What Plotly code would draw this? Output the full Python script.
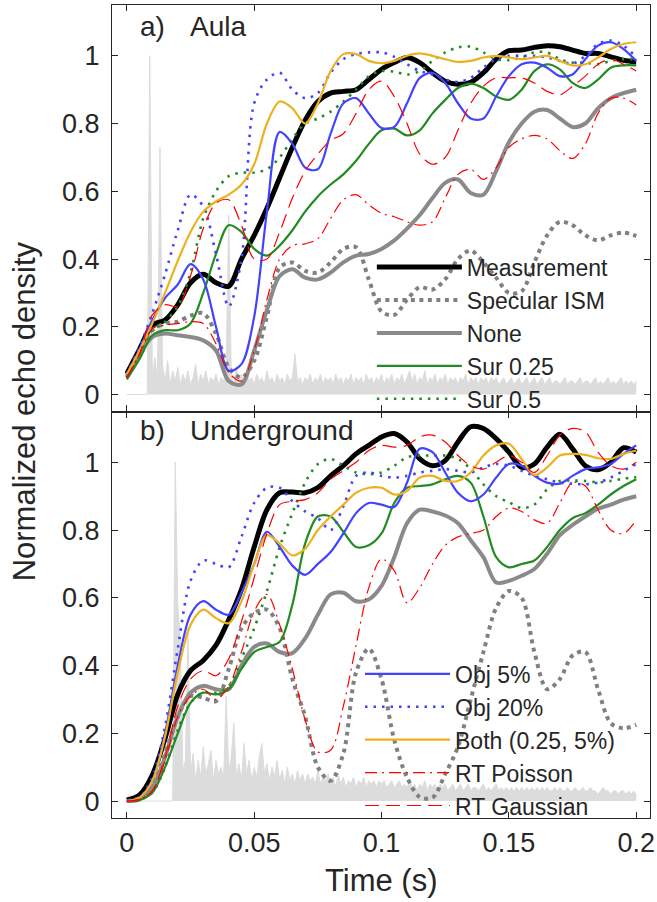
import plotly.graph_objects as go
from plotly.subplots import make_subplots

# ---------------- data ----------------
time = [0.000, 0.005, 0.010, 0.015, 0.020, 0.025, 0.030, 0.035, 0.040, 0.045,
        0.050, 0.055, 0.060, 0.065, 0.070, 0.075, 0.080, 0.085, 0.090, 0.095,
        0.100, 0.105, 0.110, 0.115, 0.120, 0.125, 0.130, 0.135, 0.140, 0.145,
        0.150, 0.155, 0.160, 0.165, 0.170, 0.175, 0.180, 0.185, 0.190, 0.195, 0.200]

# a) Aula
a_meas = [0.062,0.134,0.205,0.22,0.265,0.33,0.355,0.33,0.32,0.40,
          0.47,0.55,0.64,0.73,0.81,0.865,0.89,0.895,0.90,0.93,
          0.96,0.98,0.995,0.98,0.95,0.925,0.916,0.922,0.95,0.99,
          1.015,1.017,1.025,1.03,1.027,1.017,1.007,1.007,0.997,0.987,0.982]
a_spec = [0.055,0.13,0.19,0.21,0.215,0.233,0.24,0.18,0.08,0.05,
          0.10,0.23,0.375,0.39,0.365,0.36,0.39,0.43,0.435,0.34,
          0.245,0.235,0.28,0.317,0.31,0.34,0.40,0.425,0.39,0.345,
          0.30,0.305,0.39,0.47,0.51,0.50,0.47,0.455,0.47,0.478,0.468]
a_none = [0.05,0.12,0.17,0.18,0.175,0.17,0.16,0.13,0.04,0.03,
          0.13,0.25,0.35,0.37,0.345,0.34,0.36,0.39,0.41,0.415,
          0.43,0.455,0.49,0.53,0.58,0.625,0.635,0.595,0.59,0.66,
          0.745,0.80,0.835,0.84,0.815,0.79,0.80,0.845,0.875,0.89,0.90]
a_sur25 = [0.045,0.105,0.175,0.19,0.19,0.21,0.30,0.415,0.50,0.48,
           0.43,0.41,0.44,0.485,0.54,0.585,0.62,0.65,0.69,0.74,
           0.78,0.785,0.765,0.78,0.83,0.87,0.905,0.918,0.905,0.88,
           0.87,0.90,0.955,0.975,0.96,0.92,0.905,0.93,0.965,0.972,0.972]
a_sur50 = [0.05,0.12,0.19,0.215,0.26,0.36,0.52,0.60,0.645,0.655,
           0.655,0.665,0.70,0.755,0.80,0.815,0.835,0.865,0.90,0.94,
           0.955,0.953,0.945,0.955,0.985,1.01,1.025,1.027,1.01,0.99,
           0.987,0.995,1.01,1.01,0.99,0.98,0.98,0.975,0.985,0.99,0.99]
a_obj5 = [0.06,0.134,0.22,0.285,0.325,0.385,0.34,0.20,0.07,0.09,
          0.23,0.54,0.775,0.74,0.67,0.665,0.77,0.86,0.875,0.83,
          0.787,0.79,0.86,0.935,0.95,0.92,0.86,0.815,0.815,0.88,
          0.94,0.975,0.98,0.965,0.94,0.945,0.99,1.03,1.04,1.02,0.985]
a_obj20 = [0.06,0.14,0.24,0.355,0.485,0.59,0.555,0.415,0.26,0.40,
           0.86,0.93,0.95,0.90,0.875,0.89,0.95,0.99,1.005,1.01,
           1.01,0.997,0.975,0.955,0.945,0.93,0.923,0.935,0.965,0.99,
           1.0,1.0,1.0,0.995,0.985,0.977,1.0,1.035,1.045,1.03,0.995]
a_both = [0.06,0.13,0.21,0.30,0.395,0.48,0.54,0.57,0.59,0.62,
          0.68,0.80,0.865,0.845,0.80,0.86,0.955,1.005,1.005,0.985,
          0.978,0.985,1.0,1.007,1.0,0.99,0.982,0.985,0.995,1.0,
          0.995,0.99,0.995,1.0,0.985,0.972,0.975,0.995,1.02,1.035,1.04]
a_poisson = [0.05,0.12,0.195,0.205,0.21,0.215,0.21,0.15,0.065,0.04,
             0.13,0.28,0.40,0.44,0.445,0.46,0.52,0.575,0.59,0.56,
             0.535,0.525,0.51,0.50,0.51,0.58,0.65,0.665,0.635,0.67,
             0.73,0.755,0.765,0.755,0.72,0.697,0.74,0.83,0.875,0.875,0.855]
a_gauss = [0.05,0.12,0.235,0.265,0.26,0.35,0.49,0.565,0.575,0.50,
           0.40,0.40,0.48,0.58,0.66,0.71,0.75,0.77,0.83,0.90,
           0.925,0.88,0.80,0.71,0.68,0.70,0.78,0.86,0.91,0.935,
           0.935,0.935,0.92,0.895,0.885,0.91,0.94,0.975,0.99,0.975,0.955]

# b) Underground
b_meas = [0.003,0.018,0.077,0.185,0.315,0.385,0.415,0.46,0.535,0.625,
          0.75,0.86,0.91,0.912,0.91,0.925,0.96,0.99,1.025,1.05,
          1.075,1.085,1.06,1.01,0.99,1.005,1.06,1.105,1.10,1.07,
          1.03,0.985,0.995,1.045,1.083,1.04,0.99,0.978,1.0,1.043,1.03]
b_spec = [0.0,0.01,0.05,0.14,0.25,0.31,0.305,0.295,0.39,0.51,
          0.555,0.565,0.51,0.36,0.25,0.10,0.06,0.14,0.38,0.45,
          0.36,0.18,0.07,0.012,0.01,0.08,0.16,0.30,0.44,0.57,
          0.62,0.60,0.44,0.33,0.36,0.43,0.44,0.33,0.23,0.215,0.225]
b_none = [0.0,0.005,0.04,0.13,0.25,0.32,0.34,0.33,0.33,0.40,
          0.455,0.465,0.44,0.437,0.48,0.55,0.61,0.615,0.59,0.595,
          0.635,0.72,0.82,0.86,0.855,0.843,0.82,0.77,0.72,0.645,
          0.65,0.665,0.685,0.73,0.785,0.815,0.84,0.863,0.875,0.89,0.90]
b_sur25 = [0.0,0.003,0.025,0.10,0.20,0.29,0.32,0.315,0.33,0.39,
           0.44,0.455,0.47,0.58,0.76,0.84,0.84,0.795,0.75,0.755,
           0.79,0.88,0.925,0.93,0.935,0.95,0.96,0.94,0.84,0.72,
           0.69,0.70,0.71,0.75,0.80,0.835,0.85,0.875,0.905,0.93,0.95]
b_sur50 = [0.0,0.003,0.025,0.10,0.21,0.29,0.32,0.32,0.34,0.42,
           0.51,0.62,0.75,0.85,0.94,0.995,1.01,0.99,0.97,0.965,
           0.97,0.99,1.015,1.02,1.02,1.02,1.01,0.98,0.935,0.90,
           0.882,0.865,0.875,0.92,0.945,0.946,0.945,0.941,0.945,0.952,0.956]
b_obj5 = [0.0,0.01,0.06,0.20,0.40,0.55,0.59,0.565,0.55,0.615,
          0.70,0.795,0.75,0.695,0.668,0.70,0.735,0.79,0.85,0.88,
          0.875,0.868,0.94,1.04,1.03,0.97,0.91,0.885,0.905,0.955,
          0.995,0.99,0.96,0.94,0.937,0.96,0.98,0.985,0.995,1.025,1.05]
b_obj20 = [0.0,0.01,0.07,0.22,0.45,0.65,0.71,0.70,0.69,0.78,
           0.88,0.925,0.925,0.885,0.855,0.835,0.80,0.87,0.96,0.97,
           0.96,0.955,0.96,0.97,0.975,0.98,0.975,0.97,0.985,0.995,
           0.99,0.975,0.96,0.95,0.94,0.937,0.935,0.94,0.955,0.975,0.995]
b_both = [0.0,0.01,0.06,0.19,0.38,0.52,0.565,0.54,0.525,0.59,
          0.70,0.785,0.76,0.725,0.745,0.80,0.84,0.875,0.91,0.925,
          0.925,0.905,0.915,0.955,0.96,0.945,0.945,0.97,1.02,1.05,
          1.055,1.01,0.962,0.985,1.02,1.025,1.022,1.012,1.01,1.025,1.035]
b_poisson = [0.0,0.005,0.03,0.12,0.25,0.31,0.33,0.30,0.34,0.44,
             0.56,0.61,0.52,0.39,0.24,0.145,0.15,0.28,0.46,0.63,
             0.715,0.68,0.585,0.63,0.70,0.755,0.78,0.79,0.80,0.84,
             0.865,0.855,0.83,0.82,0.88,0.94,0.93,0.86,0.80,0.79,0.83]
b_gauss = [0.0,0.005,0.03,0.13,0.28,0.36,0.385,0.37,0.42,0.53,
           0.66,0.79,0.875,0.885,0.89,0.91,0.95,0.975,1.0,1.035,
           1.05,1.045,1.05,1.075,1.08,1.06,1.02,0.99,0.98,1.0,
           1.02,1.0,0.97,1.02,1.08,1.1,1.09,1.03,0.99,0.98,1.0]

# normalised impulse responses (percent), sampled every 1 ms
ir_time = [i / 1000 for i in range(201)]
a_ir_pct = [0,0,0,0,0,0,0,0,0,100,
            5,11,4,73,9,4,10,3,7,4,
            8,3,6,4,7,3,5,9,3,6,
            4,7,3,5,4,6,3,5,4,8,
            53,6,3,8,4,6,3,7,4,5,
            3,6,4,5,3,7,4,5,3,6,
            4,5,3,6,4,5,12,4,5,3,
            5,4,6,3,5,4,6,3,5,4,
            5,3,6,4,5,3,5,4,6,3,
            5,4,5,3,6,4,5,3,5,4,
            6,3,5,4,6,3,5,4,6,3,
            5,7,4,6,3,5,4,7,3,5,
            4,6,3,5,4,6,3,5,4,5,
            3,5,4,6,3,5,4,5,3,5,
            4,5,3,5,4,5,3,4,5,3,
            4,5,3,4,5,3,4,5,3,4,
            5,3,4,5,3,4,5,3,4,4,
            3,4,5,3,4,4,3,4,5,3,
            4,4,3,4,5,3,4,3,4,5,
            3,4,3,4,5,3,4,3,4,3,
            4]
b_ir_pct = [0,0,0,0,0,0,0,0,0,0,
            0,0,0,0,0,0,0,0,0,100,
            58,47,9,12,51,8,14,6,12,7,
            16,8,11,15,6,12,8,10,7,31,
            9,13,23,7,11,6,17,8,12,6,
            10,7,13,17,8,11,6,10,7,12,
            6,9,5,10,6,8,5,9,6,8,
            5,8,6,7,5,9,5,7,6,8,
            5,7,4,8,5,7,4,6,5,7,
            4,6,5,7,4,6,5,6,4,6,
            5,6,4,5,6,4,5,6,4,5,
            4,6,4,5,3,5,4,6,3,5,
            4,5,3,5,4,5,3,4,5,3,
            4,5,3,4,5,3,4,4,3,4,
            5,3,4,3,4,5,3,4,3,4,
            3,4,3,4,3,4,3,4,3,4,
            3,4,3,4,3,4,3,3,4,3,
            4,3,3,4,3,3,4,3,3,4,
            3,3,4,3,3,2,3,4,3,3,
            2,3,3,2,3,3,2,3,2,3,
            2]

series_names = ["Measurement", "Specular ISM", "None", "Sur 0.25", "Sur 0.5",
                "Obj 5%", "Obj 20%", "Both (0.25, 5%)", "RT Poisson", "RT Gaussian"]
panel_a = [a_meas, a_spec, a_none, a_sur25, a_sur50, a_obj5, a_obj20, a_both, a_poisson, a_gauss]
panel_b = [b_meas, b_spec, b_none, b_sur25, b_sur50, b_obj5, b_obj20, b_both, b_poisson, b_gauss]

x_ticks = [0, 0.05, 0.1, 0.15, 0.2]
x_ticklabels = ["0", "0.05", "0.1", "0.15", "0.2"]
y_ticks = [0, 0.2, 0.4, 0.6, 0.8, 1]
y_ticklabels = ["0", "0.2", "0.4", "0.6", "0.8", "1"]

# ---------------- styles ----------------
styles = {
    "Measurement": dict(color="#000000", width=5, dash="solid"),
    "Specular ISM": dict(color="#808080", width=4, dash="4px,4.5px"),
    "None": dict(color="#8a8a8a", width=4, dash="solid"),
    "Sur 0.25": dict(color="#228B22", width=2.2, dash="solid"),
    "Sur 0.5": dict(color="#228B22", width=2.6, dash="2.5px,6px"),
    "Obj 5%": dict(color="#4242ff", width=2.2, dash="solid"),
    "Obj 20%": dict(color="#4242ff", width=2.6, dash="2.5px,6px"),
    "Both (0.25, 5%)": dict(color="#EDB120", width=2.2, dash="solid"),
    "RT Poisson": dict(color="#ff0000", width=1.2, dash="12px,5px,2px,5px"),
    "RT Gaussian": dict(color="#ff0000", width=1.2, dash="14px,7px"),
}
top_legend = ["Measurement", "Specular ISM", "None", "Sur 0.25", "Sur 0.5"]

TXT = "#262626"
FONT = "Liberation Sans, Arial, Helvetica, sans-serif"
IR_COLOR = "#dcdcdc"

fig = make_subplots(rows=2, cols=1, shared_xaxes=True, vertical_spacing=0)

for row, (ir_pct, curves) in enumerate([(a_ir_pct, panel_a), (b_ir_pct, panel_b)], start=1):
    fig.add_trace(go.Scatter(
        x=ir_time, y=[v / 100 for v in ir_pct], mode="lines",
        line=dict(color=IR_COLOR, width=1), fill="tozeroy", fillcolor=IR_COLOR,
        showlegend=False, hoverinfo="skip"), row=row, col=1)
    for name, vals in zip(series_names, curves):
        st = styles[name]
        in_top = name in top_legend
        show = (row == 1 and in_top) or (row == 2 and not in_top)
        fig.add_trace(go.Scatter(
            x=time, y=vals, mode="lines", name=name,
            line=dict(color=st["color"], width=st["width"], dash=st["dash"],
                      shape="spline", smoothing=0.9),
            showlegend=show, legend="legend" if in_top else "legend2"),
            row=row, col=1)

axis_common = dict(showline=True, linecolor=TXT, linewidth=1.3, mirror="allticks",
                   ticks="inside", ticklen=6, tickwidth=1.2, tickcolor=TXT,
                   showgrid=False, zeroline=False,
                   tickfont=dict(family=FONT, size=27, color=TXT))
for r in (1, 2):
    fig.update_xaxes(range=[-0.00583, 0.2054], tickvals=x_ticks, ticktext=x_ticklabels,
                     showticklabels=(r == 2), ticklabelstandoff=0,
                     ticklabeloverflow="allow", row=r, col=1, **axis_common)
    fig.update_yaxes(range=[-0.05, 1.15], tickvals=y_ticks, ticktext=y_ticklabels,
                     ticklabelstandoff=6, row=r, col=1, **axis_common)

fig.update_layout(
    width=657, height=902,
    margin=dict(l=112, r=2, t=5, b=84),
    paper_bgcolor="white", plot_bgcolor="white",
    font=dict(family=FONT, color=TXT),
    legend=dict(x=0.483, y=0.704, xanchor="left", yanchor="top",
                bgcolor="rgba(0,0,0,0)", borderwidth=0, itemwidth=85,
                font=dict(family=FONT, size=23, color=TXT), tracegroupgap=0),
    legend2=dict(x=0.461, y=0.2036, xanchor="left", yanchor="top",
                 bgcolor="rgba(0,0,0,0)", borderwidth=0, itemwidth=85,
                 font=dict(family=FONT, size=23, color=TXT), tracegroupgap=0),
    annotations=[
        dict(text="a)", x=0.048, y=0.974, xref="paper", yref="paper", xanchor="left",
             yanchor="middle", showarrow=False, font=dict(family=FONT, size=28, color=TXT)),
        dict(text="Aula", x=0.142, y=0.974, xref="paper", yref="paper", xanchor="left",
             yanchor="middle", showarrow=False, font=dict(family=FONT, size=28, color=TXT)),
        dict(text="b)", x=0.048, y=0.477, xref="paper", yref="paper", xanchor="left",
             yanchor="middle", showarrow=False, font=dict(family=FONT, size=28, color=TXT)),
        dict(text="Underground", x=0.142, y=0.477, xref="paper", yref="paper", xanchor="left",
             yanchor="middle", showarrow=False, font=dict(family=FONT, size=28, color=TXT)),
        dict(text="Normalized echo density", x=-0.162, y=0.5, xref="paper", yref="paper",
             textangle=-90, xanchor="center", yanchor="middle", showarrow=False,
             font=dict(family=FONT, size=31, color=TXT)),
        dict(text="Time (s)", x=0.5, y=-0.077, xref="paper", yref="paper",
             xanchor="center", yanchor="middle", showarrow=False,
             font=dict(family=FONT, size=31, color=TXT)),
    ],
)

fig.write_html("out.html")
